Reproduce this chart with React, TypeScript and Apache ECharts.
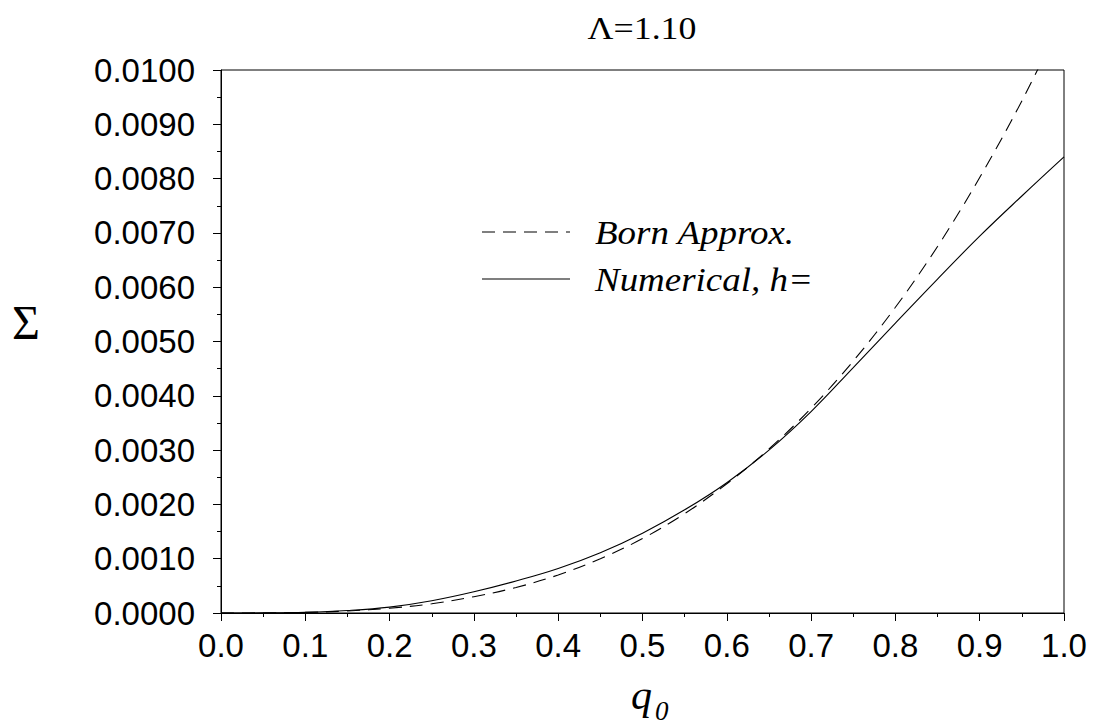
import React, { useEffect, useRef } from "react";
import * as echarts from "echarts";

// Scattering cross-section Σ versus q0 at Λ = 1.10
const qValues = [
  0, 0.05, 0.1, 0.15, 0.2, 0.25, 0.3, 0.35, 0.4, 0.45, 0.5,
  0.55, 0.6, 0.65, 0.7, 0.75, 0.8, 0.85, 0.9, 0.95, 1.0,
];

// Born approximation
const bornValues = [
  0, 0.000001, 0.000011, 0.000037, 0.000088, 0.00017, 0.0003, 0.00047, 0.0007,
  0.001, 0.00137, 0.00183, 0.00238, 0.00302, 0.00377, 0.00464, 0.00563,
  0.00675, 0.00802, 0.00943, 0.011,
];

// Numerical solution
const numericalValues = [
  0, 0.000002, 0.000012, 0.000045, 0.000108, 0.000225, 0.00039, 0.00059, 0.00082,
  0.00111, 0.00147, 0.0019, 0.0024, 0.003, 0.00371, 0.00452, 0.00534,
  0.00615, 0.00694, 0.00768, 0.0084,
];

const seriesNames = ["Born Approx.", "Numerical, h="];
const titleText = "Λ=1.10";
const yAxisName = "Σ";

const SANS = "'Liberation Sans', Arial, sans-serif";
const SERIF = "'Liberation Serif', 'Times New Roman', serif";
const DASH = [13, 8];

export default function App() {
  const ref = useRef<HTMLDivElement>(null);

  useEffect(() => {
    if (!ref.current) return;
    const chart = echarts.init(ref.current, undefined, { renderer: "svg" });

    const axisCommon = {
      axisLine: { show: true, lineStyle: { color: "#000", width: 1 } },
      axisTick: { show: true, inside: false, length: 8, lineStyle: { color: "#000", width: 1 } },
      minorTick: { show: true, splitNumber: 2, length: 4, lineStyle: { color: "#000", width: 1 } },
      splitLine: { show: false },
      minorSplitLine: { show: false },
    };

    // Legend keys: a short line sample followed by the italic series name
    const legendRows = seriesNames.map((name, i) => {
      const y = 232 + i * 47;
      return [
        {
          type: "line",
          shape: { x1: 482, y1: y, x2: 570, y2: y },
          style: { stroke: "#000", lineWidth: 1.1, lineDash: i === 0 ? DASH : null },
        },
        {
          type: "text",
          x: 595,
          y: y + 1,
          scaleX: 1.12,
          style: {
            text: name,
            font: `italic 33px ${SERIF}`,
            fill: "#000",
            textAlign: "left",
            textVerticalAlign: "middle",
          },
        },
      ];
    }).flat();

    chart.setOption({
      animation: false,
      backgroundColor: "#fff",
      grid: {
        left: 221,
        top: 70,
        right: 33,
        bottom: 115,
        show: true,
        borderColor: "#000",
        borderWidth: 1,
        backgroundColor: "transparent",
      },
      xAxis: {
        type: "value",
        min: 0,
        max: 1,
        interval: 0.1,
        ...axisCommon,
        axisLabel: {
          color: "#000",
          fontFamily: SANS,
          fontSize: 33,
          margin: 16,
          formatter: (v: number) => v.toFixed(1),
        },
      },
      yAxis: {
        type: "value",
        min: 0,
        max: 0.01,
        interval: 0.001,
        ...axisCommon,
        axisLabel: {
          color: "#000",
          fontFamily: SANS,
          fontSize: 33,
          margin: 26,
          formatter: (v: number) => v.toFixed(4),
        },
      },
      series: [
        {
          name: seriesNames[0],
          type: "line",
          data: qValues.map((q, i) => [q, bornValues[i]]),
          symbol: "none",
          smooth: 0.35,
          clip: true,
          lineStyle: { color: "#000", width: 1.1, type: DASH },
        },
        {
          name: seriesNames[1],
          type: "line",
          data: qValues.map((q, i) => [q, numericalValues[i]]),
          symbol: "none",
          smooth: 0.4,
          clip: true,
          lineStyle: { color: "#000", width: 1.1 },
        },
      ],
      graphic: [
        ...legendRows,
        {
          type: "text",
          x: 642,
          y: 28,
          scaleX: 1.12,
          style: {
            text: titleText,
            font: `32px ${SERIF}`,
            fill: "#000",
            textAlign: "center",
            textVerticalAlign: "middle",
          },
        },
        {
          type: "text",
          x: 26,
          y: 322,
          style: {
            text: yAxisName,
            font: `48px ${SERIF}`,
            fill: "#000",
            textAlign: "center",
            textVerticalAlign: "middle",
          },
        },
        {
          type: "text",
          x: 631,
          y: 695,
          style: {
            text: "q",
            font: `italic 42px ${SERIF}`,
            fill: "#000",
            textAlign: "left",
            textVerticalAlign: "middle",
          },
        },
        {
          type: "text",
          x: 655,
          y: 711,
          style: {
            text: "0",
            font: `italic 27px ${SERIF}`,
            fill: "#000",
            textAlign: "left",
            textVerticalAlign: "middle",
          },
        },
      ],
    });

    return () => chart.dispose();
  }, []);

  return (
    <div
      ref={ref}
      style={{ position: "absolute", left: 0, top: 0, width: 1097, height: 728, background: "#fff" }}
    />
  );
}
